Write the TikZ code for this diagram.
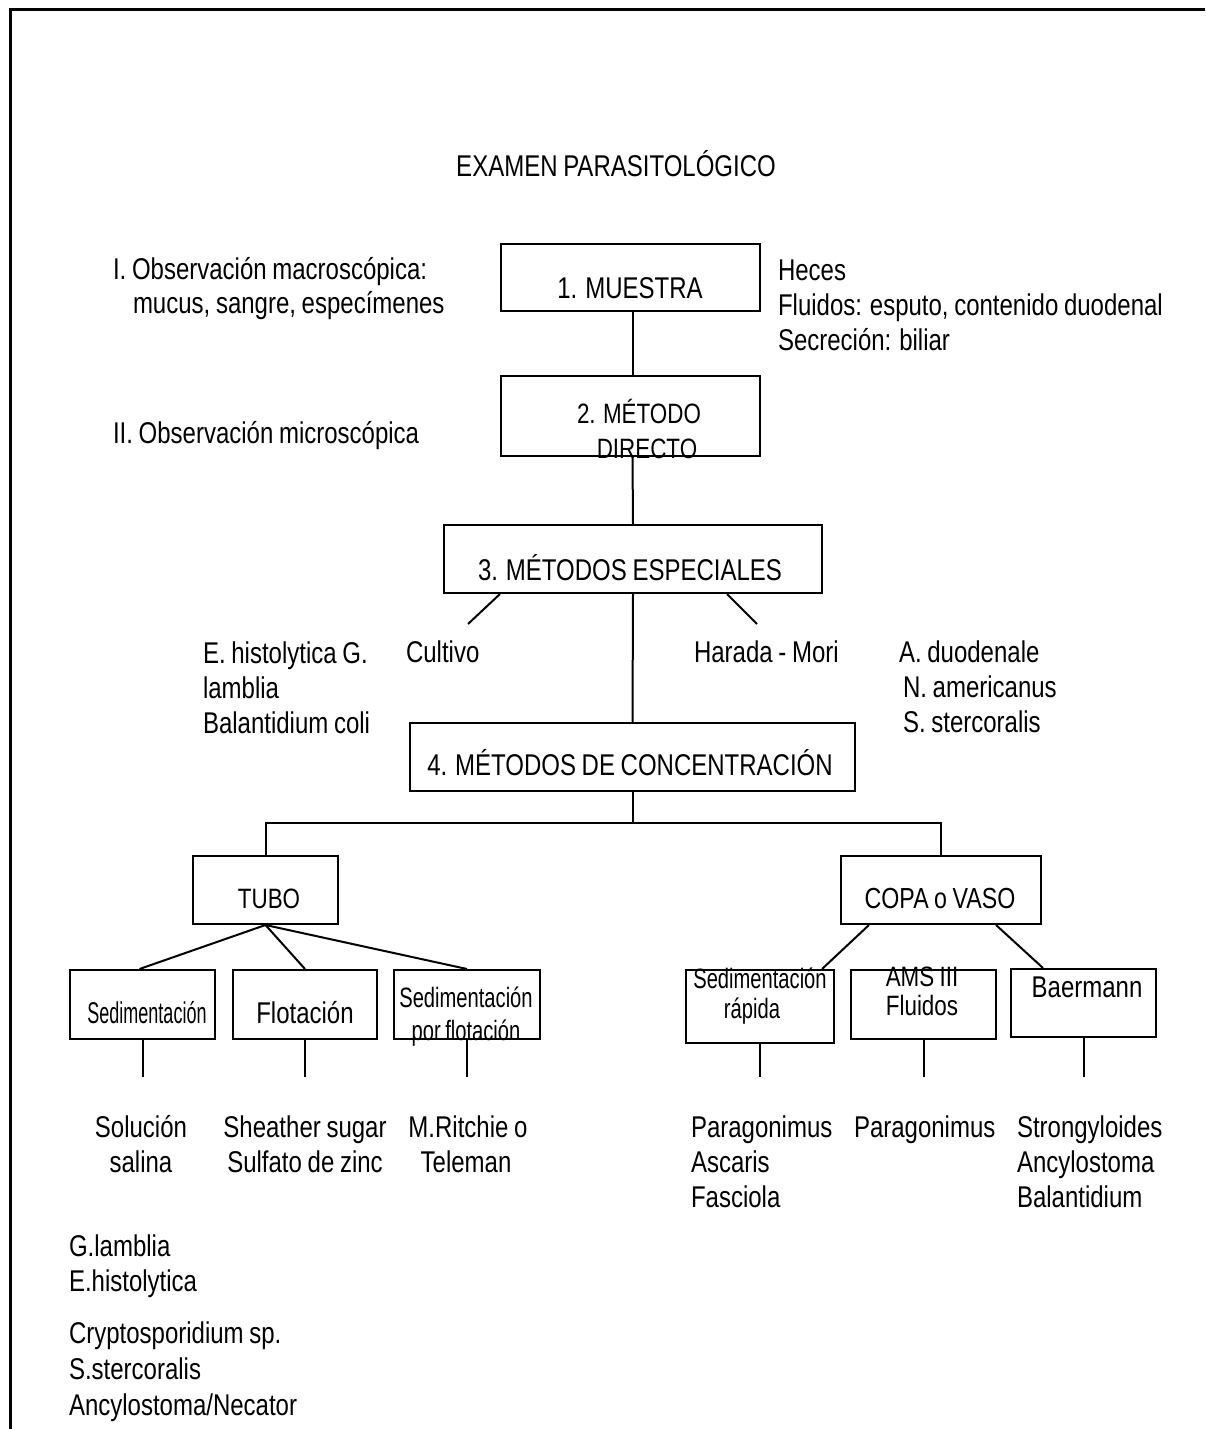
\documentclass[tikz,border=0pt]{standalone}
\usepackage{fontspec}
\setmainfont{Liberation Sans}[FakeStretch=0.8,WordSpace=0.85]
\newfontfamily\narrowA{Liberation Sans}[FakeStretch=0.6,WordSpace=0.7]
\newfontfamily\narrowB{Liberation Sans}[FakeStretch=0.72,WordSpace=0.8]
\begin{document}
\begin{tikzpicture}[x=1pt,y=-1pt,line width=2pt,
  box/.style={draw,line width=2pt,inner sep=0pt,anchor=north west},
  txt/.style={inner sep=0pt,anchor=base west,font=\fontsize{30}{35}\selectfont},
  ctxt/.style={inner sep=0pt,anchor=base,font=\fontsize{30}{35}\selectfont},
  mtxt/.style={inner sep=0pt,anchor=base,font=\fontsize{28}{33}\selectfont},
  nbtxt/.style={inner sep=0pt,anchor=base,font=\narrowB\fontsize{28}{32}\selectfont},
  natxt/.style={inner sep=0pt,anchor=base,font=\narrowA\fontsize{30}{35}\selectfont}]
\useasboundingbox (0,0) rectangle (1205,1429);
% frame
\draw[line width=3pt] (10,1429) -- (10,9.5) -- (1205,9.5);

% title and side texts
\node[ctxt] (title) at (616,176) {EXAMEN PARASITOLÓGICO};
\node[txt] (oi1) at (112,279) {I. Observación macroscópica:};
\node[txt] (oi2) at (132,313) {mucus, sangre, especímenes};
\node[txt] (oii) at (112,443) {II. Observación microscópica};
\node[txt] (h1) at (777,280) {Heces};
\node[txt] (h2) at (777,315) {Fluidos: esputo, contenido duodenal};
\node[txt] (h3) at (777,350) {Secreción: biliar};
\node[txt] (e1) at (202,663) {E. histolytica G.};
\node[txt] (e2) at (202,698) {lamblia};
\node[txt] (e3) at (202,733) {Balantidium coli};
\node[txt] (cult) at (405,662) {Cultivo};
\node[txt] (hm) at (693,662) {Harada - Mori};
\node[txt] (a1) at (898,662) {A. duodenale};
\node[txt] (a2) at (902,697) {N. americanus};
\node[txt] (a3) at (902,732) {S. stercoralis};

% main boxes
\node[box,minimum width=259pt,minimum height=67pt] (b1) at (500,243) {};
\node[ctxt] (b1t) at (630,298) {1. MUESTRA};
\node[box,minimum width=259pt,minimum height=80pt] (b2) at (500,375) {};
\node[mtxt] (b2ta) at (639,423) {2. MÉTODO};
\node[mtxt] (b2tb) at (647,458) {DIRECTO};
\node[box,minimum width=378pt,minimum height=68pt] (b3) at (443,524) {};
\node[ctxt] (b3t) at (630,580) {3. MÉTODOS ESPECIALES};
\node[box,minimum width=445pt,minimum height=68pt] (b4) at (409,722) {};
\node[ctxt] (b4t) at (630,775) {4. MÉTODOS DE CONCENTRACIÓN};

\node[box,minimum width=145pt,minimum height=68pt] (tubo) at (192,855) {};
\node[ctxt,font=\fontsize{28}{33}\selectfont] (tubot) at (269,908) {TUBO};
\node[box,minimum width=200pt,minimum height=68pt] (copa) at (840,855) {};
\node[ctxt,font=\fontsize{29}{34}\selectfont] (copat) at (940,908) {COPA o VASO};

% small boxes left
\node[box,minimum width=145pt,minimum height=69pt] (s1) at (69,969) {};
\node[natxt] (s1t) at (147,1023) {Sedimentación};
\node[box,minimum width=144pt,minimum height=69pt] (s2) at (232,969) {};
\node[ctxt] (s2t) at (305,1023) {Flotación};
\node[box,minimum width=146pt,minimum height=69pt] (s3) at (393,969) {};
\node[nbtxt] (s3ta) at (466,1007) {Sedimentación};
\node[nbtxt] (s3tb) at (466,1040) {por flotación};

% small boxes right
\node[box,minimum width=148pt,minimum height=73pt] (r1) at (685,969) {};
\node[nbtxt] (r1ta) at (760,988) {Sedimentación};
\node[nbtxt] (r1tb) at (752,1018) {rápida};
\node[box,minimum width=145pt,minimum height=69pt] (r2) at (850,969) {};
\node[mtxt] (r2ta) at (922,986) {AMS III};
\node[mtxt] (r2tb) at (922,1015) {Fluidos};
\node[box,minimum width=145pt,minimum height=68pt] (r3) at (1010,968) {};
\node[ctxt] (r3t) at (1087,997) {Baermann};

% bottom texts
\node[ctxt] (sol1) at (141,1137) {Solución};
\node[ctxt] (sol2) at (141,1172) {salina};
\node[ctxt] (sh1) at (305,1137) {Sheather sugar};
\node[ctxt] (sh2) at (305,1172) {Sulfato de zinc};
\node[ctxt] (mr1) at (468,1137) {M.Ritchie o};
\node[ctxt] (mr2) at (466,1172) {Teleman};
\node[txt] (p1) at (690,1137) {Paragonimus};
\node[txt] (p2) at (690,1172) {Ascaris};
\node[txt] (p3) at (690,1207) {Fasciola};
\node[txt] (pp) at (853,1137) {Paragonimus};
\node[txt] (st1) at (1016,1137) {Strongyloides};
\node[txt] (st2) at (1016,1172) {Ancylostoma};
\node[txt] (st3) at (1016,1207) {Balantidium};
\node[txt] (g1) at (68,1256) {G.lamblia};
\node[txt] (g2) at (68,1291) {E.histolytica};
\node[txt] (c1) at (68,1343) {Cryptosporidium sp.};
\node[txt] (c2) at (68,1379) {S.stercoralis};
\node[txt] (c3) at (68,1415) {Ancylostoma/Necator};

% connectors
\draw ([xshift=2pt]b1.south) -- ([xshift=2pt]b2.north);
\draw ([xshift=2pt]b2.south) -- (b3.north);
\draw (b3.south) -- (b4.north);
\coordinate (d1) at (468,624);
\coordinate (d2) at (757,624);
\draw ([xshift=57pt]b3.south west) -- (d1);
\draw ([xshift=-96pt]b3.south east) -- (d2);
\coordinate (bar) at (631,823);
\draw (b4.south) -- (b4.south |- bar);
\draw (tubo.north) -- (tubo.north |- bar) -- (copa.north |- bar) -- (copa.north);
\draw (tubo.south) -- ([xshift=-3pt]s1.north);
\draw (tubo.south) -- (s2.north);
\draw (tubo.south) -- (s3.north);
\draw (s1.south) -- ++(0,37);
\draw (s2.south) -- ++(0,37);
\draw (s3.south) -- ++(0,37);
\draw ([xshift=29pt]copa.south west) -- ([xshift=-13pt]r1.north east);
\draw ([xshift=-46pt]copa.south east) -- ([xshift=33pt]r3.north west);
\draw (r1.south) -- ++(0,33);
\draw (r2.south) -- ++(0,37);
\draw (r3.south) -- ++(0,39);
\end{tikzpicture}
\end{document}
